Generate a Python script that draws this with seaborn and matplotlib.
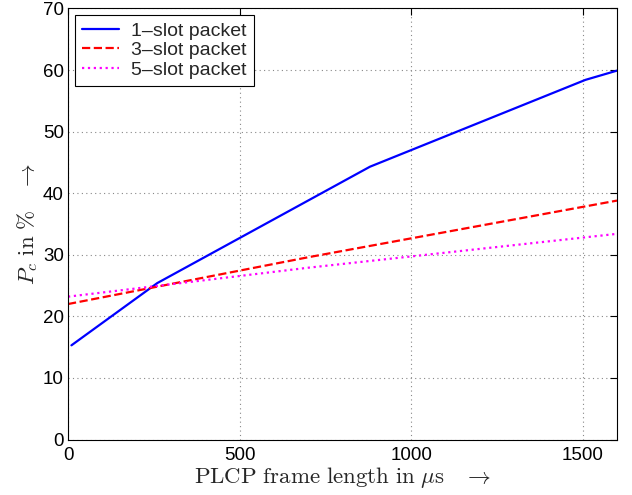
import matplotlib
matplotlib.use("Agg")
import matplotlib.pyplot as plt
import seaborn as sns
import pandas as pd

# Collision probability vs PLCP frame length
x_1slot = [10, 260, 880, 1508, 1600]
y_1slot = [15.3, 25.4, 44.3, 58.4, 59.9]

x_3slot = [0, 700, 1600]
y_3slot = [22.0, 29.6, 38.8]

x_5slot = [0, 700, 1600]
y_5slot = [23.2, 27.9, 33.4]

labels = ["1–slot packet", "3–slot packet", "5–slot packet"]
colors = ["#0000ff", "#ff0000", "#ff00ff"]
styles = ["-", "--", ":"]

xticks = [0, 500, 1000, 1500]
yticks = [0, 10, 20, 30, 40, 50, 60, 70]

sns.set_theme(style="white")
plt.rcParams["font.family"] = ["Liberation Sans", "DejaVu Sans"]
plt.rcParams["mathtext.fontset"] = "cm"

fig = plt.figure(figsize=(6.32, 4.95), dpi=100)
ax = fig.add_axes([0.1076, 0.112, 0.9763 - 0.1076, 0.983 - 0.112])

series = [(x_1slot, y_1slot), (x_3slot, y_3slot), (x_5slot, y_5slot)]
for (xs, ys), lab, col, ls in zip(series, labels, colors, styles):
    df = pd.DataFrame({"x": xs, "y": ys})
    sns.lineplot(data=df, x="x", y="y", ax=ax, color=col, linestyle=ls,
                 linewidth=1.6, label=lab, sort=False)

ax.set_xlim(0, 1600)
ax.set_ylim(0, 70)
ax.set_xticks(xticks)
ax.set_yticks(yticks)
ax.tick_params(direction="in", length=5, width=0.8, top=True, right=True,
               labelsize=13.5, colors="black")
ax.tick_params(axis="x", pad=5)
ax.tick_params(axis="y", pad=3)
for s in ax.spines.values():
    s.set_color("black")
    s.set_linewidth(0.8)
    s.set_visible(True)

ax.grid(True, linestyle=(0, (1, 3)), color="#888888", linewidth=0.8)

ax.set_xlabel(r"$\mathrm{PLCP\ frame\ length\ in\ }\mu\mathrm{s}\quad\rightarrow$",
              fontsize=16.5, labelpad=1)
ax.set_ylabel(r"$P_c\ \mathrm{in\ \%}\quad\rightarrow$", fontsize=16.5, labelpad=2)

leg = ax.legend(loc="upper left", fontsize=14, frameon=True, fancybox=False,
                edgecolor="black", framealpha=1, borderaxespad=0.35,
                handlelength=1.9, handletextpad=0.65, labelspacing=0.1,
                borderpad=0.35)
leg.get_frame().set_linewidth(0.8)

fig.savefig("out.png", dpi=100)
